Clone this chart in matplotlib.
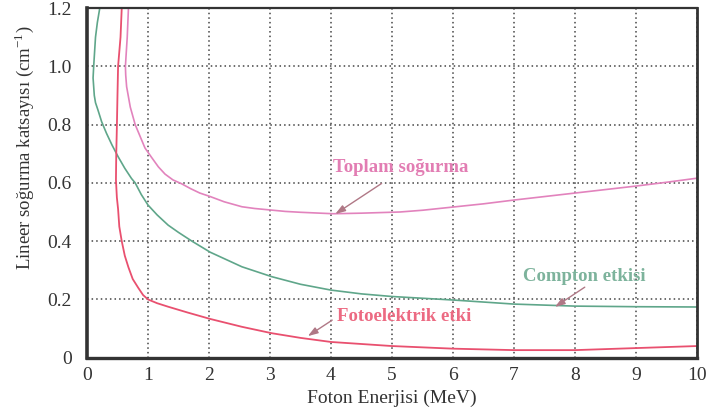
import matplotlib
matplotlib.use("Agg")
import matplotlib.pyplot as plt

# ---- data ----
compton_x = [0.21, 0.17, 0.14, 0.125, 0.11, 0.105, 0.10, 0.12, 0.14, 0.18, 0.24, 0.32, 0.41,
             0.51, 0.62, 0.73, 0.79, 0.89, 1.0, 1.15, 1.33, 1.5, 1.72, 2.02, 2.54, 3.03, 3.5,
             4.0, 4.5, 5, 5.5, 6, 7, 8, 9, 10]
compton_y = [1.2, 1.15, 1.1, 1.05, 1.0, 0.98, 0.96, 0.9, 0.875, 0.85, 0.81, 0.77, 0.73,
             0.69, 0.65, 0.615, 0.6, 0.56, 0.524, 0.49, 0.455, 0.43, 0.4, 0.362, 0.312, 0.278, 0.252,
             0.232, 0.219, 0.21, 0.204, 0.198, 0.184, 0.177, 0.175, 0.174]

foto_x = [0.57, 0.55, 0.51, 0.50, 0.49, 0.48, 0.475, 0.49, 0.51, 0.53, 0.57, 0.62, 0.68,
          0.75, 0.84, 0.92, 1.0, 1.15, 1.33, 1.65, 2.02, 2.54, 3.03, 3.5, 4.0, 4.5, 5, 6, 7,
          8, 9, 10]
foto_y = [1.2, 1.1, 1.0, 0.9, 0.79, 0.7, 0.61, 0.55, 0.51, 0.45, 0.4, 0.35, 0.31,
          0.27, 0.24, 0.215, 0.2, 0.187, 0.175, 0.155, 0.133, 0.106, 0.084, 0.068, 0.054, 0.047,
          0.04, 0.031, 0.026, 0.026, 0.033, 0.04]

toplam_x = [0.68, 0.66, 0.63, 0.635, 0.65, 0.71, 0.79, 0.87, 0.95, 1.05, 1.17, 1.28, 1.41,
            1.55, 1.7, 1.85, 2.02, 2.25, 2.54, 2.75, 3.0, 3.25, 3.5, 4.04, 4.5, 5.13, 5.5, 6,
            6.5, 7, 7.5, 8, 8.5, 9, 9.5, 10]
toplam_y = [1.2, 1.1, 1.0, 0.97, 0.93, 0.86, 0.80, 0.76, 0.72, 0.69, 0.655, 0.63, 0.61,
            0.597, 0.58, 0.565, 0.553, 0.535, 0.518, 0.512, 0.507, 0.502, 0.499, 0.494, 0.496,
            0.50, 0.506, 0.517, 0.528, 0.541, 0.553, 0.565, 0.577, 0.589, 0.602, 0.616]

x_ticks = [0, 1, 2, 3, 4, 5, 6, 7, 8, 9, 10]
y_ticks = [0, 0.2, 0.4, 0.6, 0.8, 1.0, 1.2]
y_tick_labels = ["0", "0.2", "0.4", "0.6", "0.8", "1.0", "1.2"]

labels = ["Toplam soğurma", "Compton etkisi", "Fotoelektrik etki"]
label_xy = [(4.03, 0.651), (7.15, 0.277), (4.10, 0.143)]
arrow_tail = [(4.83, 0.598), (8.16, 0.242), (4.02, 0.129)]
arrow_head = [(4.07, 0.493), (7.67, 0.174), (3.62, 0.074)]

xlabel = "Foton Enerjisi (MeV)"
ylabel = "Lineer soğurma katsayısı (cm$^{\\mathregular{-1}}$)"

# ---- style ----
plt.rcParams["font.family"] = ["Liberation Serif", "DejaVu Serif"]
plt.rcParams["mathtext.fontset"] = "custom"
plt.rcParams["mathtext.rm"] = "Liberation Serif"

c_toplam = "#e283bd"
c_foto = "#e9506f"
c_compton = "#5fa68a"
text_colors = ["#e27db3", "#7db39c", "#ec6a82"]
arrow_color = "#b07886"

fig = plt.figure(figsize=(7.17, 4.13), dpi=100)
ax = fig.add_axes([0.1213, 0.1339, 0.8508, 0.8467])

ax.plot(toplam_x, toplam_y, color=c_toplam, lw=1.2)
ax.plot(compton_x, compton_y, color=c_compton, lw=1.2)
ax.plot(foto_x, foto_y, color=c_foto, lw=1.3)

for lab, (tx, ty), tail, head, col in zip(labels, label_xy, arrow_tail, arrow_head, text_colors):
    ax.text(tx, ty, lab, color=col, fontsize=13.5, fontweight="bold",
            ha="left", va="center")
    ax.annotate("", xy=head, xytext=tail,
                arrowprops=dict(arrowstyle="-|>,head_length=0.6,head_width=0.2",
                                color=arrow_color, lw=1.0, shrinkA=0, shrinkB=0))

ax.set_xlim(0, 10)
ax.set_ylim(0, 1.2)
ax.set_xticks(x_ticks)
ax.set_xticklabels([str(v) for v in x_ticks])
ax.set_yticks(y_ticks)
ax.set_yticklabels(y_tick_labels)
ax.tick_params(axis="both", length=0, labelsize=14, colors="#333333")
ax.tick_params(axis="x", pad=7)
ax.tick_params(axis="y", pad=11)

ax.grid(True, color="#444444", linestyle=(0, (1, 2)), linewidth=1.1)
ax.set_axisbelow(True)

ax.spines["left"].set_linewidth(2.6)
ax.spines["bottom"].set_linewidth(2.4)
ax.spines["right"].set_linewidth(2.0)
ax.spines["top"].set_linewidth(1.6)
for s in ax.spines.values():
    s.set_color("#333333")

ax.set_xlabel(xlabel, fontsize=14, color="#333333", va="center")
ax.xaxis.set_label_coords(0.5, -0.115)
ax.set_ylabel(ylabel, fontsize=13.5, color="#333333", va="center")
ax.yaxis.set_label_coords(-0.103, 0.60)

fig.savefig("out.png", dpi=100)
